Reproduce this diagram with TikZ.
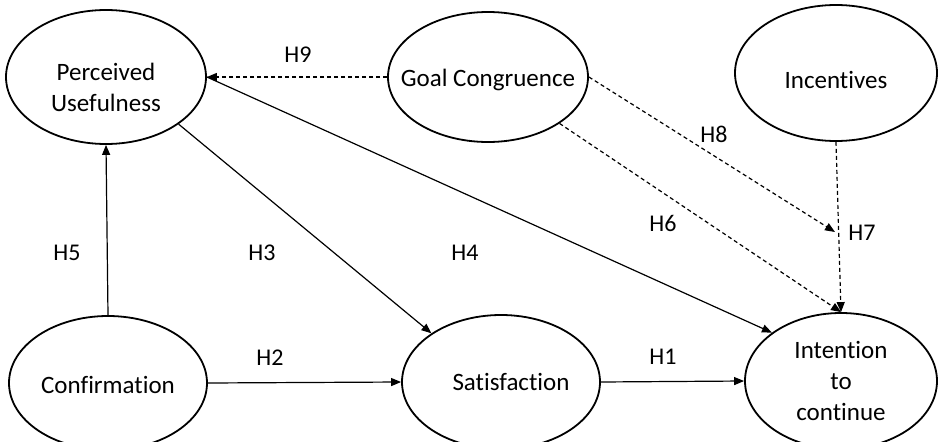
\documentclass[tikz,border=0pt]{standalone}
\usepackage{fontspec}
\setmainfont{Carlito}[Ligatures=NoCommon]
\usetikzlibrary{shapes.geometric,arrows.meta}
\begin{document}
\begin{tikzpicture}[x=1pt,y=-1pt,
  latent/.style={ellipse,draw,line width=1.8pt,inner sep=0pt},
  lbl/.style={align=center,font=\fontsize{25}{31}\selectfont},
  relpath/.style={line width=1.2pt,-{Triangle[length=10pt,width=8pt]}},
  dpath/.style={relpath,dash pattern=on 4pt off 3pt},
  hyp/.style={font=\fontsize{24}{28}\selectfont}]
\useasboundingbox (0,0) rectangle (938,442);

\node[latent,minimum width=200pt,minimum height=134pt,
  label={[lbl,yshift=-10pt]center:{Perceived\\Usefulness}}] (pu) at (106,77) {};
\node[latent,minimum width=200pt,minimum height=130pt,
  label={[lbl,yshift=-3pt]center:Goal Congruence}] (gc) at (488,77) {};
\node[latent,minimum width=202pt,minimum height=136pt,
  label={[lbl,yshift=-7pt]center:Incentives}] (inc) at (836,73) {};
\node[latent,minimum width=198pt,minimum height=134pt,
  label={[lbl,yshift=-2pt]center:Confirmation}] (conf) at (108,383) {};
\node[latent,minimum width=198pt,minimum height=134pt,
  label={[lbl,xshift=10pt]center:Satisfaction}] (sat) at (501,382) {};
\node[latent,minimum width=192pt,minimum height=136pt,
  label={[lbl]center:{Intention\\to\\continue}}] (int) at (841,381) {};

\coordinate (h8end) at (835,232);

\draw[dpath] (gc.west) -- (pu.east);
\draw[relpath] (pu.east) -- (int.145);
\draw[relpath] (pu.-33) -- (sat.145);
\draw[relpath] (conf.north) -- (pu.south);
\draw[relpath] (conf.east) -- (sat.west);
\draw[relpath] (sat.east) -- (int.west);
\draw[dpath] (gc.east) -- (h8end);
\draw[dpath] (gc.-33) -- (int.north);
\draw[dpath] (inc.south) -- (int.north);

\node[hyp] (l9) at (298,55) {H9};
\node[hyp] (l8) at (714,134) {H8};
\node[hyp] (l6) at (663,223) {H6};
\node[hyp] (l7) at (862,233) {H7};
\node[hyp] (l5) at (67,253) {H5};
\node[hyp] (l3) at (262,253) {H3};
\node[hyp] (l4) at (465,253) {H4};
\node[hyp] (l2) at (270,358) {H2};
\node[hyp] (l1) at (663,357) {H1};
\end{tikzpicture}
\end{document}
